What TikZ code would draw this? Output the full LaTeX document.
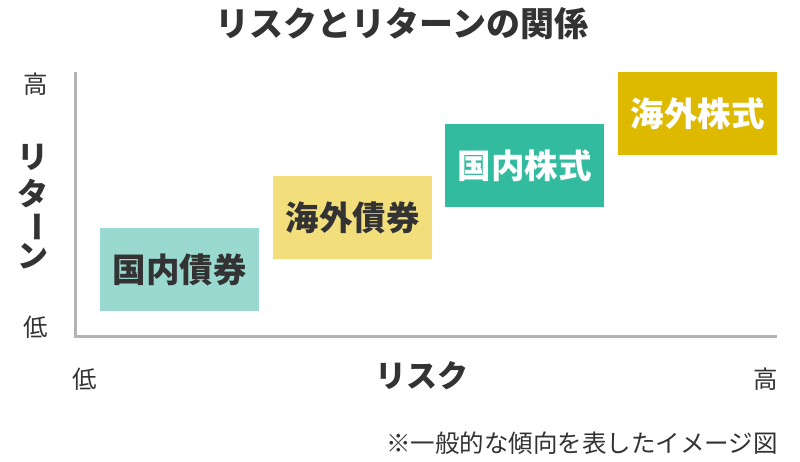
\documentclass[tikz,border=0pt]{standalone}
\usepackage{fontspec}
\setmainfont{Noto Sans CJK JP}
\usetikzlibrary{positioning}

\definecolor{textdark}{HTML}{333333}
\definecolor{axisgray}{HTML}{B3B3B3}
\definecolor{dbondcol}{HTML}{99D9CF}
\definecolor{fbondcol}{HTML}{F3DE7C}
\definecolor{dstockcol}{HTML}{32BB9F}
\definecolor{fstockcol}{HTML}{DDB900}

\begin{document}
\begin{tikzpicture}[x=1pt, y=-1pt, text=textdark,
  assetbox/.style={anchor=north west, minimum width=159pt, minimum height=83pt, inner sep=0pt,
    font=\fontsize{33.5}{33.5}\selectfont\bfseries},
  scalelabel/.style={inner sep=0pt, font=\fontsize{24.5}{24.5}\selectfont},
  axislabel/.style={inner sep=0pt, font=\fontsize{31}{31}\selectfont\bfseries}]
\path[use as bounding box, fill=white] (0,0) rectangle (800,462);
\node[inner sep=0pt, font=\fontsize{34}{34}\selectfont\bfseries] (title) at (402,24) {リスクとリターンの関係};
% axes
\coordinate (ytop) at (75.5,72);
\coordinate (orig) at (75.5,336.5);
\coordinate (xend) at (777,336.5);
\draw[axisgray, line width=3pt] (ytop) -- (orig) -- (xend);
% assets
\node[assetbox, fill=dbondcol] (dbond) at (100,228) {国内債券};
\node[assetbox, fill=fbondcol] (fbond) at (273,176) {海外債券};
\node[assetbox, fill=dstockcol, text=white] (dstock) at (445,124) {国内株式};
\node[assetbox, fill=fstockcol, text=white] (fstock) at (618,72) {海外株式};
% axis labels
\node[scalelabel] (yhigh) at (35.5,84) {高};
\node[scalelabel] (ylow) at (35.5,327) {低};
\node[axislabel] (yname1) at (33,157) {リ};
\node[axislabel] (yname2) at (33,194) {タ};
\node[axislabel, rotate=-90] (yname3) at (33,227) {ー};
\node[axislabel] (yname4) at (33,256) {ン};
\node[scalelabel] (xlow) at (85,379) {低};
\node[scalelabel] (xhigh) at (766,379) {高};
\node[axislabel] (xname) at (422,376) {リスク};
\node[scalelabel, anchor=east] (note) at (778,443) {※一般的な傾向を表したイメージ図};
\end{tikzpicture}
\end{document}
